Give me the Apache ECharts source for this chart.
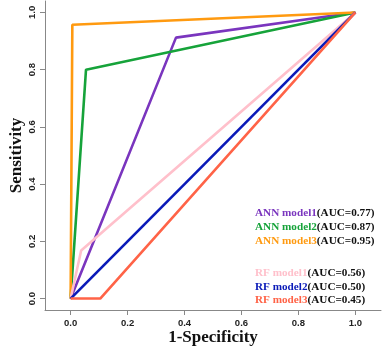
<!DOCTYPE html>
<html lang="en">
<head>
  <meta charset="UTF-8">
  <title>ROC</title>
  <style type="text/css">
    * { margin: 0; padding: 0; }
    html, body { width: 100%; height: 100%; overflow: hidden; background: #fff; }
    #main { width: 390px; height: 350px; }
  </style>
  <script type="text/javascript" src="https://cdn.jsdelivr.net/npm/echarts@6/dist/echarts.min.js"></script>
</head>
<body>
<div id="main"></div>
<script type="text/javascript">
  // ROC points [1-specificity, sensitivity]
  var ann1 = [[0, 0], [0.37, 0.912], [1, 1]];
  var ann2 = [[0, 0], [0.054, 0.80], [1, 1]];
  var ann3 = [[0, 0], [0.006, 0.957], [1, 1]];
  var rf1 = [[0, 0], [0.037, 0.168], [1, 1]];
  var rf2 = [[0, 0], [1, 1]];
  var rf3 = [[0, 0], [0.104, 0], [1, 1]];

  var modelNames = ['ANN model1', 'ANN model2', 'ANN model3', 'RF model1', 'RF model2', 'RF model3'];
  var aucText = ['(AUC=0.77)', '(AUC=0.87)', '(AUC=0.95)', '(AUC=0.56)', '(AUC=0.50)', '(AUC=0.45)'];
  var colors = ['#7A35BE', '#16A33A', '#FF9A10', '#FFC0CB', '#0A1AB8', '#FF6347'];
  var tickValues = [0, 0.2, 0.4, 0.6, 0.8, 1.0];

  var allData = [ann1, ann2, ann3, rf1, rf2, rf3];

  var series = [];
  for (var i = 0; i < allData.length; i++) {
    series.push({
      name: modelNames[i],
      type: 'line',
      data: allData[i],
      symbol: 'none',
      lineStyle: { color: colors[i], width: 2.6 },
      animation: false
    });
  }

  // legend as rich text, name coloured and AUC black
  var rich = { k: { fill: '#111' } };
  for (var i = 0; i < colors.length; i++) {
    rich['c' + i] = { fill: colors[i] };
  }
  var legendLines = [];
  for (var i = 0; i < modelNames.length; i++) {
    legendLines.push({
      type: 'text',
      left: 255,
      top: (i < 3 ? 208 : 226) + i * 13.8,
      style: {
        text: '{c' + i + '|' + modelNames[i] + '}{k|' + aucText[i] + '}',
        rich: rich,
        font: 'bold 11.2px "Liberation Serif", "Times New Roman", serif',
        fill: '#111'
      }
    });
  }

  var tickFmt = function (v) { return v.toFixed(1); };

  var myChart = echarts.init(document.getElementById('main'));
  var option = {
    backgroundColor: '#fff',
    grid: { left: 45, right: 9, top: 1, bottom: 40, containLabel: false, outerBoundsMode: 'none' },
    xAxis: {
      type: 'value',
      min: -0.09,
      max: 1.09,
      name: '1-Specificity',
      nameLocation: 'middle',
      nameGap: 19,
      nameMoveOverlap: false,
      nameTextStyle: {
        fontFamily: 'Liberation Serif', fontWeight: 'bold', fontSize: 17, color: '#111',
        verticalAlign: 'top'
      },
      axisLine: { show: true, onZero: false, lineStyle: { color: '#888', width: 1 } },
      axisTick: { show: true, length: 5, customValues: tickValues, lineStyle: { color: '#888' } },
      axisLabel: {
        customValues: tickValues, formatter: tickFmt, margin: 8,
        fontFamily: 'Liberation Sans', fontWeight: 'bold', fontSize: 9.5, color: '#222'
      },
      splitLine: { show: false }
    },
    yAxis: {
      type: 'value',
      min: -0.04,
      max: 1.04,
      name: 'Sensitivity',
      nameLocation: 'middle',
      nameGap: 20,
      nameMoveOverlap: false,
      nameRotate: 90,
      nameTextStyle: {
        fontFamily: 'Liberation Serif', fontWeight: 'bold', fontSize: 17, color: '#111'
      },
      axisLine: { show: true, onZero: false, lineStyle: { color: '#888', width: 1 } },
      axisTick: { show: true, length: 5, customValues: tickValues, lineStyle: { color: '#888' } },
      axisLabel: {
        customValues: tickValues, formatter: tickFmt, rotate: 90, margin: 8,
        fontFamily: 'Liberation Sans', fontWeight: 'bold', fontSize: 9.5, color: '#222'
      },
      splitLine: { show: false }
    },
    graphic: legendLines,
    series: series
  };
  myChart.setOption(option);
</script>
</body>
</html>
